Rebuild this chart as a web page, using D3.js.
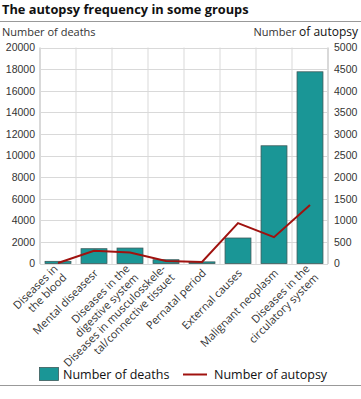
<!DOCTYPE html>
<html>
<head>
<meta charset="utf-8">
<script src="https://cdn.jsdelivr.net/npm/d3@7"></script>
<style>
  body { margin: 0; background: #fff; }
  svg { font-family: "Open Sans", sans-serif; }
  .tick text { fill: #333; font-size: 10.5px; }
</style>
</head>
<body>
<svg width="361" height="399"></svg>
<script>
// **** Data ****
var categories = [
    ['Diseases in', 'the blood'],
    ['Mental diseasesr'],
    ['Diseases in the', 'digestive system'],
    ['Diseases in musculosskele-', 'tal/connective tissuet'],
    ['Pernatal period'],
    ['External causes'],
    ['Malignant neoplasm'],
    ['Diseases in the', 'circulatory system']
];
var deaths = [200, 1370, 1430, 350, 150, 2360, 10900, 17750];
var autopsies = [10, 295, 255, 60, 35, 935, 610, 1355];
var leftTicks = [0, 2000, 4000, 6000, 8000, 10000, 12000, 14000, 16000, 18000, 20000];
var rightTicks = [0, 500, 1000, 1500, 2000, 2500, 3000, 3500, 4000, 4500, 5000];

var teal = '#1a9696';
var red = '#a0120f';

// **** Scales ****
var keys = categories.map(function(c) { return c.join(' '); });

var xScale = d3.scaleBand()
    .domain(keys).range([40, 328])
    .paddingInner(0.28).paddingOuter(0.14);

var yLeft = d3.scaleLinear().domain([0, 20000]).range([263.5, 47.5]);
var yRight = d3.scaleLinear().domain([0, 5000]).range([263.5, 47.5]);

var svg = d3.select('svg');

// title + rules
svg.append('text')
    .attr('x', 2).attr('y', 14)
    .attr('font-size', 12.8).attr('font-weight', 'bold').attr('fill', '#111')
    .text('The autopsy frequency in some groups');

svg.append('line').attr('x1', 0).attr('x2', 361).attr('y1', 21.5).attr('y2', 21.5)
    .attr('stroke', '#999');
svg.append('line').attr('x1', 0).attr('x2', 361).attr('y1', 385.5).attr('y2', 385.5)
    .attr('stroke', '#999');

svg.append('text')
    .attr('x', 2).attr('y', 36)
    .attr('font-size', 11).attr('fill', '#333')
    .text('Number of deaths');

var rt = svg.append('text')
    .attr('x', 358).attr('y', 36)
    .attr('font-size', 11).attr('fill', '#333')
    .attr('text-anchor', 'end');
rt.append('tspan').text('Number ');
rt.append('tspan').attr('fill', '#111').attr('font-size', 12).text('of autopsy');

// gridlines
var grid = svg.append('g');
grid.selectAll('.hg')
    .data(leftTicks)
    .enter().append('line')
    .attr('x1', 40).attr('x2', 328)
    .attr('y1', function(d) { return Math.round(yLeft(d)) + 0.5; })
    .attr('y2', function(d) { return Math.round(yLeft(d)) + 0.5; })
    .attr('stroke', '#d9d9d9');

var pad = (xScale.step() - xScale.bandwidth()) / 2;
grid.selectAll('.vg')
    .data(keys.concat(['end']))
    .enter().append('line')
    .attr('x1', function(d, i) { return i < keys.length ? xScale(d) - pad : 328; })
    .attr('x2', function(d, i) { return i < keys.length ? xScale(d) - pad : 328; })
    .attr('y1', 47.5).attr('y2', 264)
    .attr('stroke', '#d9d9d9')
    .attr('stroke-width', function(d, i) { return (i == 0 || i == keys.length) ? 2 : 1; });

// axes (labels only)
svg.append('g').attr('class', 'y axis')
    .attr('transform', 'translate(40,0)')
    .call(d3.axisLeft(yLeft).tickValues(leftTicks).tickSize(0).tickPadding(5).tickFormat(d3.format('d')))
    .call(function(g) { g.select('.domain').remove(); });

svg.append('g').attr('class', 'y axis')
    .attr('transform', 'translate(328,0)')
    .call(d3.axisRight(yRight).tickValues(rightTicks).tickSize(0).tickPadding(6).tickFormat(d3.format('d')))
    .call(function(g) { g.select('.domain').remove(); });

// bars
svg.selectAll('.bar')
    .data(deaths)
    .enter().append('rect')
    .attr('class', 'bar')
    .attr('x', function(d, i) { return xScale(keys[i]); })
    .attr('width', xScale.bandwidth())
    .attr('y', function(d) { return yLeft(d); })
    .attr('height', function(d) { return yLeft(0) - yLeft(d); })
    .attr('fill', teal)
    .attr('stroke', '#3c5a5a')
    .attr('stroke-width', 0.8);

// line
var line = d3.line()
    .x(function(d, i) { return xScale(keys[i]) + xScale.bandwidth() / 2; })
    .y(function(d) { return yRight(d); });

svg.append('path')
    .datum(autopsies)
    .attr('d', line)
    .attr('fill', 'none')
    .attr('stroke', red)
    .attr('stroke-width', 2);

// category labels
var labels = svg.selectAll('.xlab')
    .data(categories)
    .enter().append('text')
    .attr('class', 'xlab')
    .attr('font-size', 11).attr('fill', '#333')
    .attr('text-anchor', 'end')
    .attr('transform', function(d, i) {
        var cx = xScale(keys[i]) + xScale.bandwidth() / 2 + 2;
        return 'translate(' + cx + ',271) rotate(-45)';
    });

labels.each(function(d) {
    var t = d3.select(this);
    var lh = 12.5;
    var start = -(d.length - 1) * lh / 2 + 4;
    d.forEach(function(s, j) {
        t.append('tspan').attr('x', 0).attr('y', start + j * lh).text(s);
    });
});

// legend
var lg = svg.append('g');
lg.append('rect').attr('x', 39.5).attr('y', 367.5).attr('width', 19).attr('height', 13)
    .attr('fill', teal).attr('stroke', '#3c5a5a').attr('stroke-width', 0.8);
lg.append('text').attr('x', 63).attr('y', 378.5)
    .attr('font-size', 12.5).attr('fill', '#111').text('Number of deaths');
lg.append('line').attr('x1', 183).attr('x2', 207).attr('y1', 374.5).attr('y2', 374.5)
    .attr('stroke', red).attr('stroke-width', 2);
lg.append('text').attr('x', 214).attr('y', 378.5)
    .attr('font-size', 12.5).attr('fill', '#111').text('Number of autopsy');
</script>
</body>
</html>
